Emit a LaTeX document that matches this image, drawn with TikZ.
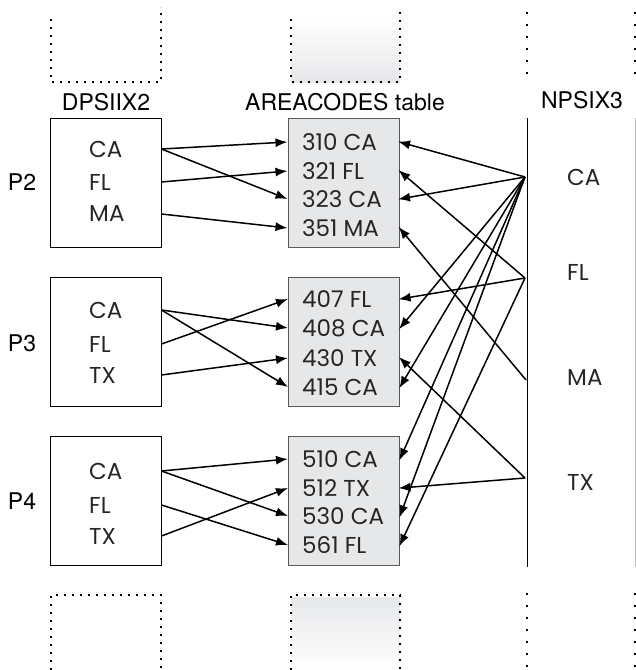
\documentclass[tikz,border=0pt]{standalone}
\usepackage{fontspec}
\setmainfont{TeX Gyre Heros}
\newfontfamily\geo{Poppins}
\usetikzlibrary{arrows.meta}
\definecolor{boxgray}{HTML}{E6E7E9}
\begin{document}
\begin{tikzpicture}[x=1pt,y=-1pt,
  lbl/.style={font=\fontsize{23}{26}\selectfont, inner sep=0, anchor=base},
  ent/.style={font=\geo\fontsize{23}{26}\selectfont, inner sep=0, anchor=west, text=black!85},
  lbox/.style={draw, line width=1pt, minimum width=111pt, minimum height=129pt, inner sep=0},
  abox/.style={draw=black!65, fill=boxgray, line width=1pt, minimum width=111pt, minimum height=129pt, inner sep=0},
  conn/.style={line width=1.5pt, -{Latex[length=12pt,width=9pt]}},
  rconn/.style={conn, shorten >=-1.5pt},
  dots/.style={line width=1.8pt, dash pattern=on 1.8pt off 6.2pt},
  sdots/.style={line width=1.5pt, dash pattern=on 1.5pt off 10.5pt},
]
\useasboundingbox (0,0) rectangle (636,670);

% ---- top and bottom dotted stubs
\shade[top color=white, bottom color=boxgray] (291,19) rectangle (400,82);
\draw[dots] (51,19) -- (51,82) -- (161,82) -- (161,7);
\draw[dots] (291,19) -- (291,82) -- (400,82) -- (400,7);
\draw[sdots] (527,12) -- (527,82);
\draw[sdots] (635,12) -- (635,82);

\shade[top color=boxgray, bottom color=white] (291,597) rectangle (400,670);
\draw[dots] (51,670) -- (51,595) -- (161,595) -- (161,670);
\draw[dots] (291,670) -- (291,595) -- (400,595) -- (400,670);
\draw[sdots] (527,593) -- (527,670);
\draw[sdots] (635,593) -- (635,670);

% ---- headers
\node[lbl] (hd) at (106,110) {DPSIIX2};
\node[lbl] (ha) at (345,110) {AREACODES table};
\node[lbl] (hn) at (582,108) {NPSIX3};

% ---- NPSIX3 column
\draw[line width=1pt] (527,118) coordinate (ntop) -- (527,567) coordinate (nbot);
\draw[line width=1pt, black!25] (635.5,118) -- (635.5,567);
\node[ent] (rca) at (567,177) {CA};
\node[ent] (rfl) at (567,272) {FL};
\node[ent] (rma) at (567,378) {MA};
\node[ent] (rtx) at (567,482) {TX};
\coordinate (nCA) at (525,177);
\coordinate (nFL) at (525,278);
\coordinate (nMA) at (526,380);
\coordinate (nTX) at (525,478);

% ---- P labels
\node[lbl, anchor=center] (p2) at (22,182) {P2};
\node[lbl, anchor=center] (p3) at (22,343) {P3};
\node[lbl, anchor=center] (p4) at (22,501) {P4};

% ---- DPSIIX2 boxes
\node[lbox] (b2) at (105.5,182.5) {};
\node[lbox] (b3) at (105.5,341.5) {};
\node[lbox] (b4) at (105.5,501) {};
\node[ent] (p2ca) at (89,149) {CA};
\node[ent] (p2fl) at (89,182) {FL};
\node[ent] (p2ma) at (89,214) {MA};
\node[ent] (p3ca) at (89,310) {CA};
\node[ent] (p3fl) at (89,344) {FL};
\node[ent] (p3tx) at (89,375) {TX};
\node[ent] (p4ca) at (89,471) {CA};
\node[ent] (p4fl) at (89,505) {FL};
\node[ent] (p4tx) at (89,536) {TX};

% ---- AREACODES boxes
\node[abox] (a2) at (343.5,182.5) {};
\node[abox] (a3) at (344,341.5) {};
\node[abox] (a4) at (344,501) {};
\node[ent] (t310) at (302,142) {310 CA};
\node[ent] (t321) at (302,171) {321 FL};
\node[ent] (t323) at (302,199) {323 CA};
\node[ent] (t351) at (302,228) {351 MA};
\node[ent] (t407) at (302,299) {407 FL};
\node[ent] (t408) at (302,328) {408 CA};
\node[ent] (t430) at (302,358) {430 TX};
\node[ent] (t415) at (302,387) {415 CA};
\node[ent] (t510) at (302,459) {510 CA};
\node[ent] (t512) at (302,488) {512 TX};
\node[ent] (t530) at (302,516) {530 CA};
\node[ent] (t561) at (302,545) {561 FL};

% ---- left connectors
\draw[conn] (p2ca.east -| b2.east) -- (t310.west -| a2.west);
\draw[conn] (p2ca.east -| b2.east) -- (t323.west -| a2.west);
\draw[conn] (p2fl.east -| b2.east) -- (t321.west -| a2.west);
\draw[conn] (p2ma.east -| b2.east) -- (t351.west -| a2.west);
\draw[conn] (p3ca.east -| b3.east) -- (t408.west -| a3.west);
\draw[conn] (p3ca.east -| b3.east) -- (t415.west -| a3.west);
\draw[conn] (p3fl.east -| b3.east) -- (t407.west -| a3.west);
\draw[conn] (p3tx.east -| b3.east) -- (t430.west -| a3.west);
\draw[conn] (p4ca.east -| b4.east) -- (t510.west -| a4.west);
\draw[conn] (p4ca.east -| b4.east) -- (t530.west -| a4.west);
\draw[conn] (p4fl.east -| b4.east) -- (t561.west -| a4.west);
\draw[conn] (p4tx.east -| b4.east) -- (t512.west -| a4.west);

% ---- right connectors
\foreach \t/\b in {t310/a2,t323/a2,t408/a3,t415/a3,t510/a4,t530/a4}
  \draw[rconn] (nCA) -- (\t.east -| \b.east);
\foreach \t/\b in {t321/a2,t407/a3,t561/a4}
  \draw[rconn] (nFL) -- (\t.east -| \b.east);
\draw[rconn] (nMA) -- (t351.east -| a2.east);
\foreach \t/\b in {t430/a3,t512/a4}
  \draw[rconn] (nTX) -- (\t.east -| \b.east);
\end{tikzpicture}
\end{document}
